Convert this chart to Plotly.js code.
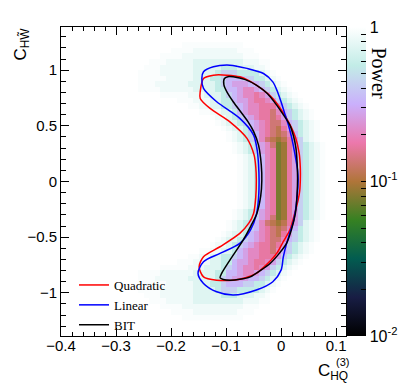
<!DOCTYPE html>
<html>
<head>
<meta charset="utf-8">
<script src="https://cdn.plot.ly/plotly-3.0.1.min.js"></script>
<style>
  html, body { margin: 0; padding: 0; background: #fff; }
</style>
</head>
<body>
<div id="chart" style="width:407px;height:387px;"></div>
<script>
// bins of the power map: 0.01 wide in x, 0.05 high in y
const binX0 = -0.255
const binDx = 0.01
const binY0 = -1.225
const binDy = 0.05

// one char per bin
const levelPower = {
  '0': 1, '1': 0.95, '2': 0.87, '3': 0.74, '4': 0.56, '5': 0.43, '6': 0.34,
  '7': 0.27, '8': 0.21, '9': 0.17, 'a': 0.135, 'b': 0.112, 'c': 0.092, 'd': 0.077
}

// top row first (y = 1.225) down to y = -1.225, columns x = -0.255 ... 0.075
const powerRows = [
  '0000000011111111111000000000000000',
  '0000001111222222221110000000000000',
  '0000111122222222222111000000000000',
  '0011122222333333333222110000000000',
  '0111222222333334443332210000000000',
  '1111222222333345554444321000000000',
  '1111122222333445666554432100000000',
  '1112222223333345677766543210000000',
  '1111222222333344667887654321000000',
  '0000111112223334567889875432100000',
  '0000000111222334467789987543210000',
  '0000000001122334456788999754321000',
  '000000000001122334678899a865432100',
  '000000000000012234567899a975432100',
  '000000000000001233456789aa86543210',
  '000000000000000123346789ab97543210',
  '000000000000000012345689aba8643210',
  '00000000000000001234568abcb9753210',
  '000000000000000001234578adc9754321',
  '0000000000000000012345789dc9754321',
  '0000000000000000001234689dc9754321',
  '0000000000000000001234689dc9754321',
  '0000000000000000001234689dc9754321',
  '0000000000000000001234689dc9754321',
  '0000000000000000001234689dc9754321',
  '0000000000000000001234689dc9754321',
  '0000000000000000001234689dc9754321',
  '0000000000000000001234689dc9754321',
  '0000000000000000001234689dc9754321',
  '0000000000000000001234689dc9754321',
  '0000000000000000012345789dc9754321',
  '000000000000000001234578adc9754321',
  '00000000000000001234568abcb9753210',
  '000000000000000012345689aba8643210',
  '000000000000000123346789ab97543210',
  '000000000000001233456789aa86543210',
  '000000000000012234567899a975432100',
  '000000000001122334678899a865432100',
  '0000000001122334456788999754321000',
  '0000000111222334467789987543210000',
  '0000111112223334567889875432100000',
  '1111222222333344667887654321000000',
  '1112222223333345677766543210000000',
  '1111122222333445666554432100000000',
  '1111222222333345554444321000000000',
  '0111222222333334443332210000000000',
  '0011122222333333333222110000000000',
  '0000111122222222222111000000000000',
  '0000001111222222221110000000000000',
  '0000000011111111111000000000000000'
]

// contour lines
const quadX = [-0.147, -0.141, -0.123, -0.099, -0.075, -0.045, -0.015, 0.010, 0.026, 0.033, 0.035, 0.035, 0.034, 0.031, 0.024, 0.016, 0.004, -0.008, -0.025, -0.045, -0.065, -0.087, -0.117, -0.141, -0.149, -0.141, -0.111, -0.075, -0.058, -0.050, -0.046, -0.045, -0.046, -0.049, -0.062, -0.093, -0.129, -0.147, -0.147]
const quadY = [0.806, 0.926, 0.955, 0.955, 0.94, 0.866, 0.746, 0.567, 0.40, 0.25, 0.118, 0.013, -0.08, -0.167, -0.30, -0.436, -0.54, -0.646, -0.74, -0.825, -0.865, -0.886, -0.886, -0.856, -0.766, -0.676, -0.586, -0.466, -0.37, -0.287, -0.14, 0.013, 0.13, 0.237, 0.387, 0.536, 0.656, 0.746, 0.806]

const linX = [-0.141, -0.123, -0.093, -0.062, -0.032, -0.015, -0.006, 0.001, 0.006, 0.012, 0.019, 0.025, 0.030, 0.031, 0.029, 0.023, 0.016, 0.010, 0.004, 0.000, -0.015, -0.045, -0.087, -0.117, -0.141, -0.151, -0.141, -0.111, -0.075, -0.055, -0.045, -0.041, -0.040, -0.041, -0.043, -0.050, -0.075, -0.117, -0.141, -0.144, -0.141]
const linY = [0.985, 1.03, 1.045, 1.016, 0.97, 0.895, 0.80, 0.70, 0.62, 0.53, 0.40, 0.25, 0.10, 0.013, -0.15, -0.347, -0.46, -0.556, -0.68, -0.796, -0.90, -0.975, -1.02, -0.99, -0.915, -0.825, -0.721, -0.646, -0.556, -0.43, -0.30, -0.15, 0.013, 0.15, 0.267, 0.417, 0.567, 0.716, 0.836, 0.926, 0.985]

const bitX = [-0.087, -0.065, -0.045, -0.025, -0.008, 0.004, 0.016, 0.023, 0.027, 0.029, 0.030, 0.029, 0.026, 0.019, 0.010, -0.004, -0.020, -0.038, -0.056, -0.075, -0.093, -0.105, -0.111, -0.108, -0.093, -0.069, -0.055, -0.044, -0.037, -0.035, -0.036, -0.041, -0.050, -0.060, -0.087, -0.098, -0.104, -0.103, -0.095, -0.087]
const bitY = [0.94, 0.915, 0.866, 0.79, 0.686, 0.60, 0.506, 0.40, 0.30, 0.18, 0.03, -0.12, -0.287, -0.43, -0.556, -0.65, -0.736, -0.80, -0.856, -0.878, -0.886, -0.88, -0.865, -0.825, -0.706, -0.526, -0.40, -0.287, -0.13, 0.01, 0.15, 0.327, 0.45, 0.536, 0.716, 0.80, 0.87, 0.925, 0.942, 0.94]

// ROOT cubehelix palette
const cubehelix = [
  [0, 'rgb(0,0,0)'], [0.125, 'rgb(24,29,68)'], [0.25, 'rgb(2,92,80)'],
  [0.375, 'rgb(54,129,34)'], [0.5, 'rgb(176,117,57)'], [0.625, 'rgb(236,120,172)'],
  [0.75, 'rgb(202,176,252)'], [0.875, 'rgb(194,236,231)'], [1, 'rgb(255,255,255)']
]

const z = powerRows.slice().reverse().map(row =>
  row.split('').map(ch => Math.log10(levelPower[ch])))

const cbTickVals = []
const cbTickText = []
for (let e = -2; e <= 0; e++) {
  for (let m = 1; m <= 9; m++) {
    if (e === 0 && m > 1) break
    cbTickVals.push(e + Math.log10(m))
    if (m === 1) cbTickText.push(e === 0 ? '1' : '10<sup>' + e + '</sup>')
    else cbTickText.push(' ')
  }
}

const sans = 'Liberation Sans, Arial, sans-serif'
const serif = 'Liberation Serif, Times New Roman, serif'

// plot area is 285 px wide inside a 346 px paper, colour bar to its right
const paperW = 346
const plotFrac = 285 / paperW
const px = p => (p - 61) / paperW
const py = p => (336 - p) / 309

const lineTrace = (x, y, name, color) => ({
  x, y, name,
  type: 'scatter',
  mode: 'lines',
  line: { color, width: 1.5, shape: 'spline', smoothing: 0.8 },
  hoverinfo: 'skip'
})

const data = [
  {
    type: 'heatmap',
    z,
    x0: binX0, dx: binDx,
    y0: binY0, dy: binDy,
    zmin: -2, zmax: 0,
    colorscale: cubehelix,
    showlegend: false,
    colorbar: {
      x: px(347), xanchor: 'left', xpad: 0,
      y: 0.5, yanchor: 'middle', ypad: 0,
      len: 1, thickness: 19,
      outlinewidth: 0,
      ticks: 'inside', ticklen: 5, tickcolor: '#000',
      tickvals: cbTickVals, ticktext: cbTickText,
      tickfont: { family: sans, size: 16, color: '#000' }
    }
  },
  lineTrace(quadX, quadY, 'Quadratic', '#ff0000'),
  lineTrace(linX, linY, 'Linear', '#0000ff'),
  lineTrace(bitX, bitY, 'BIT', '#000000')
]

const axisBase = {
  showgrid: false, zeroline: false,
  showline: true, linecolor: '#000', linewidth: 1,
  mirror: 'allticks',
  ticks: 'inside', ticklen: 8, tickcolor: '#000',
  tickfont: { family: sans, size: 15, color: '#000' }
}

const layout = {
  width: 407, height: 387,
  margin: { l: 61, r: 0, t: 27, b: 51 },
  paper_bgcolor: '#fff', plot_bgcolor: '#fff',
  xaxis: Object.assign({}, axisBase, {
    domain: [0, plotFrac],
    range: [-0.4, 0.118], dtick: 0.1, tick0: 0,
    ticklabelstandoff: -4,
    minor: { dtick: 0.02, ticks: 'inside', ticklen: 4, tickcolor: '#000' }
  }),
  yaxis: Object.assign({}, axisBase, {
    range: [-1.3875, 1.3875], dtick: 0.5, tick0: 0,
    minor: { dtick: 0.1, ticks: 'inside', ticklen: 5, tickcolor: '#000' }
  }),
  showlegend: true,
  legend: {
    x: px(74), y: py(270), xanchor: 'left', yanchor: 'top',
    bgcolor: 'rgba(0,0,0,0)',
    font: { family: serif, size: 13, color: '#000' }
  },
  annotations: [
    {
      xref: 'paper', yref: 'paper', x: px(366), y: py(45),
      xanchor: 'left', yanchor: 'top',
      text: 'Power', textangle: 90, showarrow: false,
      font: { family: serif, size: 20, color: '#000' }
    },
    {
      xref: 'paper', yref: 'paper', x: px(9), y: py(26),
      xanchor: 'left', yanchor: 'top',
      text: 'C<sub>HW\u0303</sub>', textangle: -90, showarrow: false,
      font: { family: sans, size: 17, color: '#000' }
    },
    {
      xref: 'paper', yref: 'paper', x: px(350), y: py(385),
      xanchor: 'right', yanchor: 'bottom',
      text: 'C<sub>HQ</sub>', showarrow: false,
      font: { family: sans, size: 17, color: '#000' }
    },
    {
      xref: 'paper', yref: 'paper', x: px(334), y: py(362),
      xanchor: 'left', yanchor: 'middle',
      text: '(3)', showarrow: false,
      font: { family: sans, size: 11, color: '#000' }
    }
  ]
}

Plotly.newPlot('chart', data, layout, { displayModeBar: false, staticPlot: true })
</script>
</body>
</html>
